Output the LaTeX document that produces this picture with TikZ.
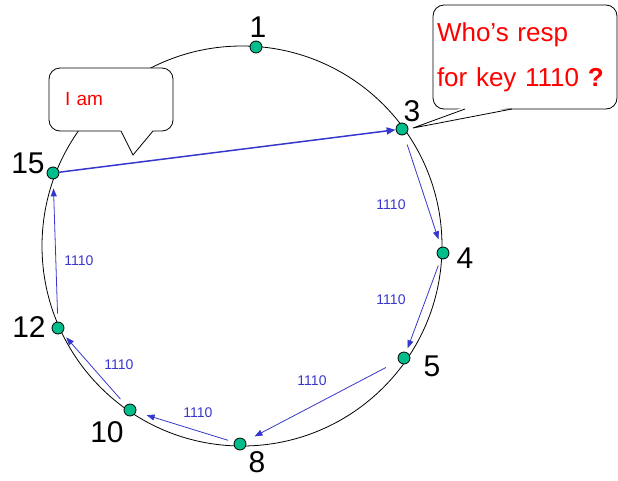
\documentclass[tikz,border=0pt]{standalone}
\usepackage{fontspec}
\setmainfont{Liberation Sans}
\usetikzlibrary{arrows.meta}
\definecolor{ringgreen}{RGB}{0,190,140}
\definecolor{msgblue}{RGB}{55,55,205}
\definecolor{talkred}{RGB}{255,0,0}
\tikzset{
  peer/.style={circle,draw=black,fill=ringgreen,line width=0.8pt,inner sep=0pt,minimum size=12pt},
  peerlabel/.style={inner sep=0pt,font=\fontsize{30}{30}\selectfont},
  hop/.style={draw=msgblue,line width=0.8pt,-{Triangle[length=8pt,width=6pt]}},
  keylabel/.style={inner sep=0pt,text=msgblue,font=\fontsize{14}{14}\selectfont},
  bubble/.style={draw=black,fill=white,line width=0.8pt,rounded corners=11pt,inner ysep=0pt,align=left,text=talkred}
}
\begin{document}
\begin{tikzpicture}[x=1pt,y=-1pt]
\useasboundingbox (0,0) rectangle (618,480);
% ring
\draw[line width=0.8pt] (242,246) circle[radius=200];
% callouts
\node[bubble,minimum width=124pt,minimum height=63pt,text width=92pt,inner xsep=16pt,
      font=\fontsize{19}{19}\selectfont] (iam) at (111,99.5) {I am};
\fill[white] (120,129) -- (133,155) -- (154,129) -- cycle;
\draw[line width=0.8pt] (121,131) -- (133,155) -- (153,131);
\node[bubble,minimum width=184pt,minimum height=104pt,text width=176pt,inner xsep=4pt,
      font=\fontsize{26}{45}\selectfont] (who) at (525,57) {Who's resp\\for key 1110 \textbf{?}};
\fill[white] (464,107) -- (413,128) -- (513,107) -- cycle;
\draw[line width=0.8pt] (465,109) -- (413,128) -- (512,109);
% peers
\node[peer] (p1)  at (256,47)  {};
\node[peer] (p3)  at (402,129) {};
\node[peer] (p4)  at (443,253) {};
\node[peer] (p5)  at (404,358) {};
\node[peer] (p8)  at (240,444) {};
\node[peer] (p10) at (130,410) {};
\node[peer] (p12) at (58,328)  {};
\node[peer] (p15) at (53,173)  {};
\node[peerlabel] (l1)  at (258,27)  {1};
\node[peerlabel] (l3)  at (412,111) {3};
\node[peerlabel] (l4)  at (465,258) {4};
\node[peerlabel] (l5)  at (432,366) {5};
\node[peerlabel] (l8)  at (257,462) {8};
\node[peerlabel] (l10) at (107,432) {10};
\node[peerlabel] (l12) at (29,327)  {12};
\node[peerlabel] (l15) at (28,163)  {15};
% lookup hops
\draw[hop,line width=1.5pt,-{Triangle[length=9pt,width=7pt]}] (p15) -- (p3);
\draw[hop,shorten <=10pt,shorten >=8pt] (p3) -- (p4);
\draw[hop,shorten <=7pt,shorten >=4pt] (p4) -- (p5);
\draw[hop,shorten <=14pt,shorten >=10pt] (p5) -- (p8);
\draw[hop,shorten <=6pt,shorten >=11pt] (p8) -- (p10);
\draw[hop,shorten <=8pt,shorten >=6pt] (p10) -- (p12);
\draw[hop,shorten <=8pt,shorten >=9pt] (p12) -- (p15);
\node[keylabel] (k34)   at (391,205) {1110};
\node[keylabel] (k45)   at (391,300) {1110};
\node[keylabel] (k58)   at (312,381) {1110};
\node[keylabel] (k810)  at (198,413) {1110};
\node[keylabel] (k1012) at (119,365) {1110};
\node[keylabel] (k1215) at (79,261)  {1110};
\end{tikzpicture}
\end{document}
